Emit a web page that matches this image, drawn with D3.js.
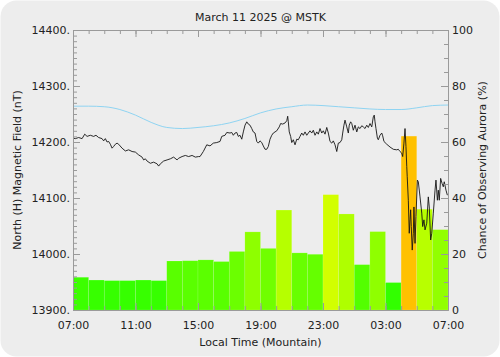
<!DOCTYPE html>
<html><head><meta charset="utf-8">
<script src="https://cdn.jsdelivr.net/npm/d3@7"></script>
<style>
html,body{margin:0;padding:0;background:#fff;}
text{font-family:"DejaVu Sans",sans-serif;fill:#222;}
</style></head>
<body>
<svg id="c" width="500" height="357"></svg>
<script>
// ---- data ----
const title = "March 11 2025 @ MSTK";
const xTickHours = [0,4,8,12,16,20,24];
const xTickLabels = ["07:00","11:00","15:00","19:00","23:00","03:00","07:00"];
const leftTicks = [13900,14000,14100,14200,14300,14400];
const rightTicks = [0,20,40,60,80,100];
// hourly aurora chance bars (start hour offset from 07:00)
const barHours = [0,1,2,3,4,5,6,7,8,9,10,11,12,13,14,15,16,17,18,19,20,21,22,23];
const barChance = [11.7,10.7,10.5,10.5,10.7,10.5,17.5,17.6,17.9,17.3,20.9,27.9,22.0,35.7,20.4,19.9,41.2,34.3,16.2,28.0,9.8,62.1,36.0,28.7];
// quiet-day reference curve (nT)
const refHours = [0,1,2,3,4,5,6,7,8,9,10,11,12,13,14,15,16,17,18,19,20,21,22,23,24];
const refValues = [14264,14264,14263,14258,14248,14235,14226,14224,14226,14229,14234,14242,14252,14259,14263,14266,14265,14263,14261,14259,14258,14258,14261,14265,14266];
// measured north component (nT)
const magHours = [0,0.15,0.36,0.58,0.75,0.90,1.11,1.32,1.47,1.64,1.86,1.96,2.07,2.18,2.28,2.39,2.50,2.60,2.71,2.82,2.92,3.14,3.35,3.56,3.78,3.99,4.20,4.42,4.52,4.63,4.74,4.95,5.16,5.38,5.48,5.59,5.80,6.02,6.23,6.44,6.66,6.76,6.98,7.19,7.40,7.62,7.83,8.04,
8.13,8.34,8.56,8.77,8.98,9.20,9.41,9.52,9.73,9.84,10.05,10.16,10.26,10.37,10.48,10.58,10.69,10.80,10.90,11.01,11.12,11.22,11.33,11.44,11.54,11.65,11.76,11.86,11.97,12.08,12.18,12.29,12.40,12.50,12.61,12.72,12.82,13.04,13.20,13.29,13.42,13.57,13.68,13.74,13.78,13.84,13.93,14.00,14.10,14.21,14.32,14.42,14.53,14.64,14.74,14.85,14.96,15.06,15.17,15.28,15.38,15.49,15.60,15.70,15.81,15.92,16.02,16.13,16.24,16.34,16.45,
16.56,16.66,16.77,16.88,16.98,17.09,17.20,17.26,17.34,17.41,17.52,17.62,17.68,17.77,17.84,17.94,18.05,18.16,18.26,18.37,18.48,18.58,18.69,18.80,18.90,19.01,19.12,19.22,19.28,19.33,19.39,19.48,19.54,19.65,19.76,19.82,19.90,20.08,20.29,20.50,20.72,20.82,20.93,21.04,21.10,21.18,21.25,21.31,21.36,21.39,21.46,21.52,21.57,21.61,21.65,21.71,21.78,21.82,21.89,21.95,22.04,22.10,22.21,22.32,22.38,22.46,22.53,22.64,22.74,22.80,22.89,22.96,23.06,23.17,23.23,23.32,23.38,23.44,23.53,23.62,23.70,23.76,23.87,23.96];
const magValues = [14207,14206,14208,14206,14214,14210,14212,14210,14212,14208,14206,14202,14206,14200,14201,14196,14189,14192,14196,14198,14196,14189,14184,14186,14183,14182,14177,14173,14168,14170,14166,14162,14164,14161,14157,14161,14166,14168,14170,14173,14168,14171,14174,14176,14174,14176,14173,14174,
14174,14183,14195,14193,14198,14199,14201,14210,14212,14217,14216,14217,14212,14216,14217,14210,14212,14205,14218,14230,14236,14232,14230,14224,14218,14216,14201,14198,14202,14199,14193,14187,14187,14192,14205,14212,14216,14220,14227,14233,14232,14234,14238,14246,14236,14218,14210,14199,14204,14195,14205,14204,14210,14216,14212,14218,14212,14216,14220,14216,14221,14212,14218,14214,14224,14216,14220,14214,14226,14216,14201,
14198,14202,14195,14183,14198,14199,14204,14216,14230,14239,14227,14216,14230,14236,14233,14221,14230,14218,14227,14224,14229,14227,14224,14230,14226,14233,14227,14245,14248,14236,14224,14207,14204,14212,14216,14211,14201,14196,14191,14187,14186,14187,14183,14180,14174,14198,14224,14192,14156,14138,14096,14037,14061,14079,14049,14007,14037,14084,14019,14067,14132,14129,14102,14073,14049,14061,14043,14055,14102,14084,14025,14037,14073,14114,14132,14096,14114,14096,14135,14126,14120,14129,14114,14105];

// ---- layout ----
const L=73, R=448, T=30, B=310;
const svg = d3.select("#c");
svg.append("rect").attr("x",0.5).attr("y",0.5).attr("width",499).attr("height",356).attr("rx",16).attr("fill","#ededed");

const x = d3.scaleLinear().domain([0,24]).range([L,R]);
const yM = d3.scaleLinear().domain([13900,14400]).range([B,T]);
const yC = d3.scaleLinear().domain([0,100]).range([B,T]);
const col = v => d3.hsl(120 - 1.2*v, 1, 0.5).formatHex();

svg.append("defs").append("clipPath").attr("id","pc").append("rect")
  .attr("x",L).attr("y",T).attr("width",R-L).attr("height",B-T);

// bars
svg.append("g").selectAll("rect").data(barHours).join("rect")
  .attr("x",(h)=>x(h)).attr("width",(h)=>x(h+1)-x(h))
  .attr("y",(h,i)=>yC(barChance[i])).attr("height",(h,i)=>yC(0)-yC(barChance[i]))
  .attr("fill",(h,i)=>col(barChance[i]))
  .attr("stroke","rgba(255,255,255,0.2)").attr("stroke-width",0.6);

const g = svg.append("g").attr("clip-path","url(#pc)");
g.append("path").datum(refHours.map((h,i)=>[h,refValues[i]]))
  .attr("fill","none").attr("stroke","#8fd4f2").attr("stroke-width",1)
  .attr("d",d3.line().x(d=>x(d[0])).y(d=>yM(d[1])).curve(d3.curveMonotoneX));
g.append("path").datum(magHours.map((h,i)=>[h,magValues[i]]))
  .attr("fill","none").attr("stroke","#151515").attr("stroke-width",0.9)
  .attr("d",d3.line().x(d=>x(d[0])).y(d=>yM(d[1])));

// axes
const axCol = "#9a9a9a";
function styleAx(sel){
  sel.select(".domain").attr("stroke",axCol);
  sel.selectAll(".tick line").attr("stroke",axCol);
  sel.selectAll("text").attr("font-size",11).attr("fill","#222").attr("font-family","DejaVu Sans, sans-serif");
}
const hours = d3.range(0,25);
// bottom
svg.append("g").attr("transform",`translate(0,${B})`)
  .call(d3.axisBottom(x).tickValues(hours).tickSizeInner(-4).tickSizeOuter(0).tickFormat("")).call(styleAx);
svg.append("g").attr("transform",`translate(0,${B})`)
  .call(d3.axisBottom(x).tickValues(xTickHours).tickSizeInner(-7).tickSizeOuter(0).tickPadding(11)
    .tickFormat((d,i)=>xTickLabels[i])).call(styleAx);
// top
svg.append("g").attr("transform",`translate(0,${T})`)
  .call(d3.axisTop(x).tickValues(hours).tickSizeInner(-4).tickSizeOuter(0).tickFormat("")).call(styleAx);
svg.append("g").attr("transform",`translate(0,${T})`)
  .call(d3.axisTop(x).tickValues(xTickHours).tickSizeInner(-7).tickSizeOuter(0).tickFormat("")).call(styleAx);
// left
svg.append("g").attr("transform",`translate(${L},0)`)
  .call(d3.axisLeft(yM).tickValues(d3.range(13900,14401,10)).tickSizeInner(-4).tickSizeOuter(0).tickFormat("")).call(styleAx);
svg.append("g").attr("transform",`translate(${L},0)`)
  .call(d3.axisLeft(yM).tickValues(leftTicks).tickSizeInner(-7).tickSizeOuter(0).tickPadding(3)
    .tickFormat(d=>d+".")).call(styleAx);
// right
svg.append("g").attr("transform",`translate(${R},0)`)
  .call(d3.axisRight(yC).tickValues(d3.range(0,101,5)).tickSizeInner(-4).tickSizeOuter(0).tickFormat("")).call(styleAx);
svg.append("g").attr("transform",`translate(${R},0)`)
  .call(d3.axisRight(yC).tickValues(rightTicks).tickSizeInner(-7).tickSizeOuter(0).tickPadding(4)).call(styleAx);

// titles
svg.append("text").attr("x",(L+R)/2).attr("y",21).attr("text-anchor","middle").attr("font-size",11).text(title);
svg.append("text").attr("x",(L+R)/2).attr("y",346).attr("text-anchor","middle").attr("font-size",11).text("Local Time (Mountain)");
svg.append("text").attr("transform",`translate(21,${(T+B)/2}) rotate(-90)`).attr("text-anchor","middle").attr("font-size",11).text("North (H) Magnetic Field (nT)");
svg.append("text").attr("transform",`translate(486,${(T+B)/2}) rotate(-90)`).attr("text-anchor","middle").attr("font-size",11).text("Chance of Observing Aurora (%)");
</script>
</body></html>
